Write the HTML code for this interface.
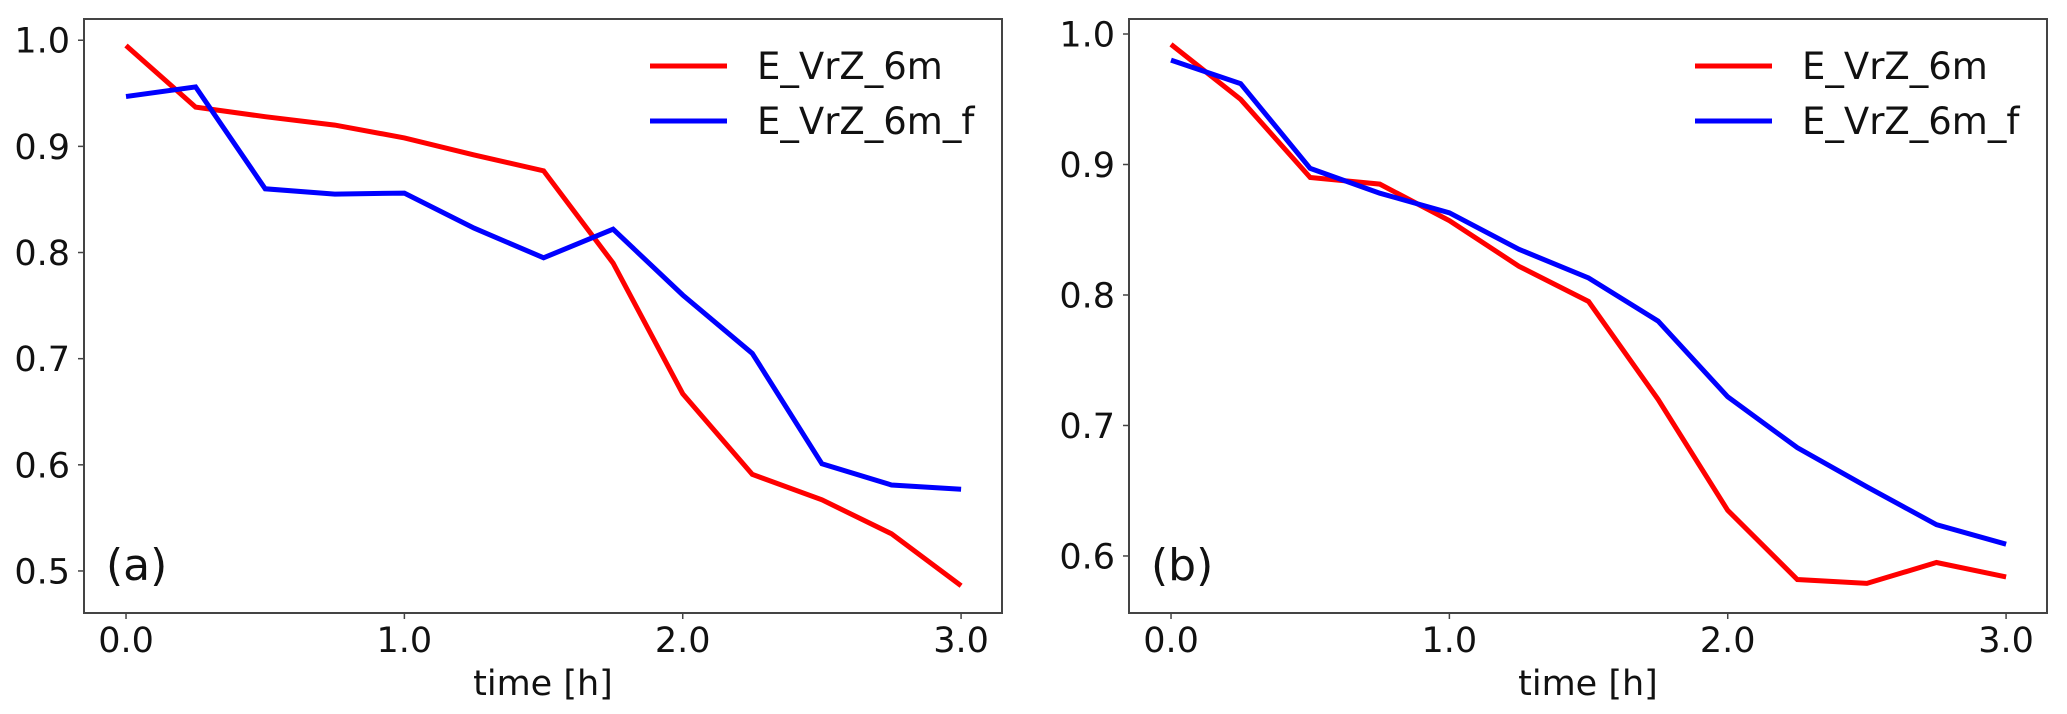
<!DOCTYPE html>
<html><head><meta charset="utf-8"><style>
body{margin:0;background:#fff;}
svg{display:block;font-family:"DejaVu Sans","Liberation Sans",sans-serif;}
</style></head><body>
<svg id="fig" width="2067" height="714" viewBox="0 0 2067 714"></svg>
<script>
const times = [0,0.25,0.5,0.75,1.0,1.25,1.5,1.75,2.0,2.25,2.5,2.75,3.0];
const aRed = [0.995,0.937,0.928,0.920,0.908,0.892,0.877,0.790,0.667,0.591,0.567,0.535,0.486];
const aBlue = [0.947,0.956,0.860,0.855,0.856,0.823,0.795,0.822,0.760,0.705,0.601,0.581,0.577];
const bRed = [0.992,0.950,0.890,0.885,0.857,0.822,0.795,0.720,0.635,0.582,0.579,0.595,0.584];
const bBlue = [0.980,0.962,0.897,0.878,0.863,0.835,0.813,0.780,0.722,0.683,0.653,0.624,0.609];
const xTicks = [0,1,2,3];
const xTickLabels = ["0.0","1.0","2.0","3.0"];
const aYTicks = [0.5,0.6,0.7,0.8,0.9,1.0];
const bYTicks = [0.6,0.7,0.8,0.9,1.0];
const seriesNames = ["E_VrZ_6m","E_VrZ_6m_f"];

const NS="http://www.w3.org/2000/svg";
const svg=document.getElementById('fig');
function mk(tag,attrs,parent){const e=document.createElementNS(NS,tag);for(const k in attrs)e.setAttribute(k,attrs[k]);(parent||svg).appendChild(e);return e;}

function panel(id,left,right,top,bottom,xmin,xmax,ymin,ymax,yTicks,red,blue,label){
  const g=mk('g',{});
  
  
  const sx=v=>left+(v-xmin)/(xmax-xmin)*(right-left);
  const sy=v=>bottom-(v-ymin)/(ymax-ymin)*(bottom-top);
  [[red,'#ff0000','red'],[blue,'#0000ff','blue']].forEach(([arr,col,nm])=>{
    const p=mk('polyline',{points:arr.map((v,i)=>sx(times[i]).toFixed(1)+','+sy(v).toFixed(1)).join(' '),fill:'none',stroke:col,'stroke-width':5,'stroke-linejoin':'miter'},g);
    
    
  });
  const fr=mk('rect',{x:left,y:top,width:right-left,height:bottom-top,fill:'none',stroke:'#444','stroke-width':2},g);
  
  
  xTicks.forEach((t,i)=>{
    const x=sx(t);
    mk('line',{x1:x,y1:bottom,x2:x,y2:bottom+6,stroke:'#444','stroke-width':1.5},g);
    const tx=mk('text',{x:x,y:652,'font-size':35,'text-anchor':'middle',fill:'#111'},g);
    tx.textContent=xTickLabels[i];
    
    
  });
  yTicks.forEach(t=>{
    const y=sy(t);
    mk('line',{x1:left-6,y1:y,x2:left,y2:y,stroke:'#444','stroke-width':1.5},g);
    const tx=mk('text',{x:left-14,y:y+12.5,'font-size':35,'text-anchor':'end',fill:'#111'},g);
    tx.textContent=t.toFixed(1);
    
    
  });
  const xl=mk('text',{x:(left+right)/2,y:695,'font-size':35,'text-anchor':'middle',fill:'#111'},g);
  xl.textContent='time [h]';
  
  
  const pl=mk('text',{x:left+22,y:580,'font-size':44,fill:'#111'},g);
  pl.textContent=label;
  
  
  [['#ff0000',66],['#0000ff',121]].forEach(([col,y],i)=>{
    const lg=mk('g',{},g);
    
    
    mk('line',{x1:right-352,y1:y,x2:right-275,y2:y,stroke:col,'stroke-width':5},lg);
    const t=mk('text',{x:right-245,y:y+13,'font-size':37,fill:'#111'},lg);
    t.textContent=seriesNames[i];
  });
}
panel('a',84,1002,19,613,-0.151,3.147,0.4604,1.020,aYTicks,aRed,aBlue,'(a)');
panel('b',1129,2047,19,613,-0.151,3.147,0.5563,1.0115,bYTicks,bRed,bBlue,'(b)');
</script>
</body></html>
